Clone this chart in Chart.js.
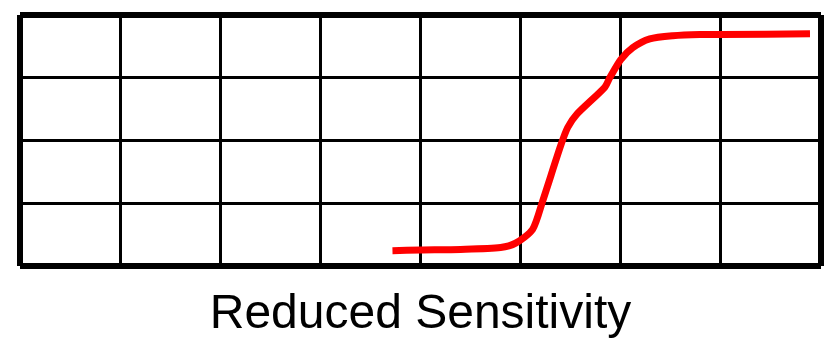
<!DOCTYPE html>
<html>
<head>
<meta charset="utf-8">
<script src="https://cdn.jsdelivr.net/npm/chart.js@4/dist/chart.umd.min.js"></script>
<style>
  html, body { margin: 0; padding: 0; background: #ffffff; }
  #wrap { width: 825px; height: 346px; }
</style>
</head>
<body>
<div id="wrap"><canvas id="c" width="825" height="346"></canvas></div>
<script>
const titleText = "Reduced Sensitivity";
const xValues = [3.72, 4.0, 4.4, 4.8, 4.95, 5.12, 5.22, 5.40, 5.47, 5.56, 5.84, 5.89, 6.0, 6.12, 6.29, 6.52, 6.79, 7.01, 7.89];
const yValues = [0.25, 0.26, 0.27, 0.30, 0.37, 0.59, 1.04, 1.92, 2.21, 2.42, 2.85, 3.0, 3.29, 3.48, 3.62, 3.67, 3.69, 3.69, 3.70];
const xRange = [0, 8];
const yRange = [0, 4];

const points = xValues.map((x, i) => ({ x: x, y: yValues[i] }));

function gridWidth(ctx, lastIndex) {
  return (ctx.index === 0 || ctx.index === lastIndex) ? 6 : 3;
}

new Chart(document.getElementById('c'), {
  type: 'scatter',
  data: {
    datasets: [{
      data: points,
      showLine: true,
      borderColor: '#ff0000',
      backgroundColor: '#ff0000',
      borderWidth: 7,
      pointRadius: 0,
      tension: 0.25,
      clip: false
    }]
  },
  options: {
    responsive: false,
    animation: false,
    layout: { padding: { left: 20, right: 4, top: 15, bottom: 2 } },
    plugins: {
      legend: { display: false },
      tooltip: { enabled: false },
      title: {
        display: true,
        text: titleText,
        position: 'bottom',
        color: '#000000',
        font: { family: 'Liberation Sans', size: 48, weight: 'normal' },
        padding: { top: 20, bottom: 0 }
      }
    },
    scales: {
      x: {
        type: 'linear',
        min: xRange[0], max: xRange[1],
        ticks: { display: false, stepSize: 1 },
        grid: { color: '#000000', lineWidth: ctx => gridWidth(ctx, 8), drawTicks: false },
        border: { display: false }
      },
      y: {
        type: 'linear',
        min: yRange[0], max: yRange[1],
        ticks: { display: false, stepSize: 1 },
        grid: { color: '#000000', lineWidth: ctx => gridWidth(ctx, 4), drawTicks: false },
        border: { display: false }
      }
    }
  }
});
</script>
</body>
</html>
